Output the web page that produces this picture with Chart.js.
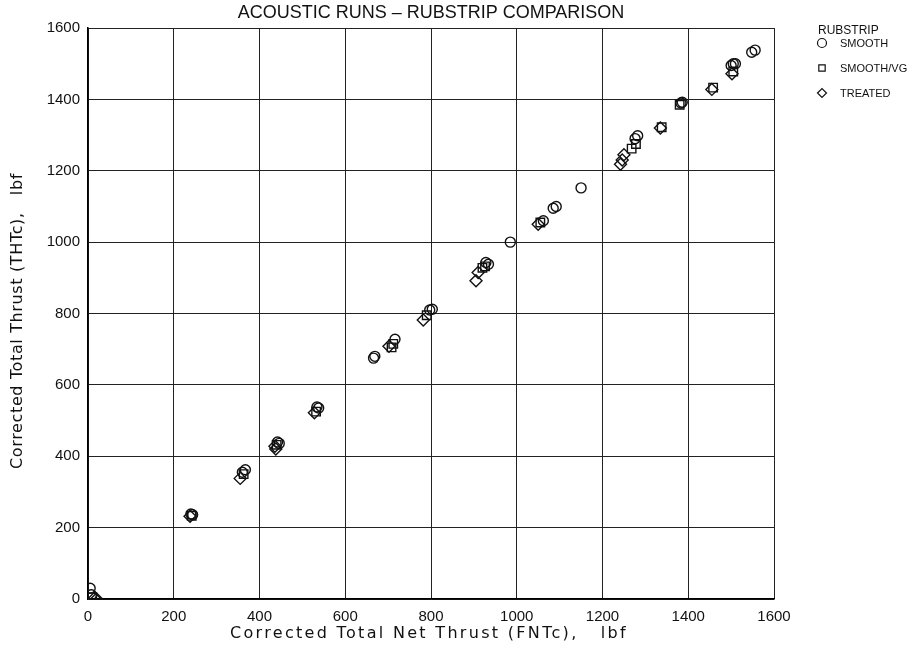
<!DOCTYPE html>
<html>
<head>
<meta charset="utf-8">
<script src="https://cdn.jsdelivr.net/npm/chart.js@4"></script>
<style>
  html, body { margin: 0; padding: 0; background: #fff; }
  #wrap { width: 911px; height: 654px; position: relative; }
</style>
</head>
<body>
<div id="wrap"><canvas id="chart"></canvas></div>
<script>
// Data (FNTc vs THTc, lbf)
const smoothX  = [5, 8, 240, 244, 360, 367, 442, 446, 534, 538, 666, 669, 716, 797, 803, 928, 934, 985, 1062, 1085, 1092, 1150, 1276, 1282, 1383, 1386, 1500, 1505, 1510, 1548, 1556];
const smoothY  = [30, 12, 238, 236, 355, 362, 440, 436, 538, 535, 675, 680, 728, 810, 812, 943, 938, 1000, 1060, 1095, 1100, 1152, 1290, 1298, 1390, 1392, 1495, 1500, 1500, 1532, 1538];
const vgX      = [10, 242, 363, 440, 532, 708, 712, 790, 920, 926, 1055, 1268, 1278, 1338, 1380, 1458, 1505];
const vgY      = [5, 233, 350, 432, 525, 705, 715, 795, 928, 932, 1055, 1262, 1275, 1322, 1385, 1433, 1478];
const treatedX = [15, 20, 238, 355, 436, 438, 528, 702, 782, 905, 910, 1050, 1242, 1246, 1250, 1335, 1455, 1502];
const treatedY = [2, 0, 232, 338, 428, 420, 522, 708, 782, 892, 915, 1050, 1218, 1230, 1245, 1320, 1428, 1472];
const seriesLabels = ['SMOOTH', 'SMOOTH/VG', 'TREATED'];
const tickValues = [0, 200, 400, 600, 800, 1000, 1200, 1400, 1600];

const FONT = '"Liberation Sans", Arial, sans-serif';
const TITLE_FONT = '"DejaVu Sans", sans-serif';
const INK = '#111';

const pts = (xs, ys) => xs.map((x, i) => ({ x: x, y: ys[i] }));

// draw text stretched with letter spacing to a given width (plotter-style lettering)
function spacedText(ctx, text, cx, cy, width, angle) {
   ctx.save();
   ctx.translate(cx, cy);
   ctx.rotate(angle);
   ctx.letterSpacing = '0px';
   const natural = ctx.measureText(text).width;
   const extra = Math.max(0, (width - natural) / text.length);
   ctx.letterSpacing = extra.toFixed(2) + 'px';
   ctx.textAlign = 'left';
   ctx.fillText(text, -width / 2, 0);
   ctx.restore();
}

// Title, axis titles and legend drawn on top of the chart
const decorPlugin = {
   id: 'decor',
   afterDraw(chart) {
      const ctx = chart.ctx;
      const area = chart.chartArea;
      ctx.save();
      ctx.fillStyle = INK;
      ctx.textBaseline = 'middle';
      ctx.textAlign = 'center';
      ctx.font = '18px ' + FONT;
      ctx.fillText('ACOUSTIC RUNS \u2013 RUBSTRIP COMPARISON', (area.left + area.right) / 2, 13);

      ctx.font = '16px ' + TITLE_FONT;
      spacedText(ctx, 'Corrected Total Net Thrust (FNTc),   lbf', 429, 634, 398, 0);
      spacedText(ctx, 'Corrected Total Thrust (THTc),   lbf', 18, 321, 296, -Math.PI / 2);

      ctx.textAlign = 'left';
      ctx.font = '12px ' + FONT;
      ctx.fillText('RUBSTRIP', 818, 31);
      ctx.font = '11px ' + FONT;
      const rowY = [43, 68, 93];
      chart.data.datasets.forEach((ds, i) => {
         ctx.strokeStyle = INK;
         ctx.lineWidth = 1.2;
         ctx.fillStyle = 'rgba(0,0,0,0)';
         Chart.helpers.drawPoint(ctx, { pointStyle: ds.pointStyle, radius: 4.5, borderWidth: 1.2 }, 822, rowY[i]);
         ctx.fillStyle = INK;
         ctx.fillText(ds.label, 840, rowY[i] + 1);
      });
      ctx.restore();
   }
};

const mkSet = (label, data, style, radius) => ({
   label: label,
   data: data,
   pointStyle: style,
   pointRadius: radius,
   pointHoverRadius: radius,
   pointBorderWidth: 1.4,
   borderColor: INK,
   backgroundColor: 'rgba(0,0,0,0)',
   showLine: false
});

const plainTick = (v) => String(v);

new Chart(document.getElementById('chart'), {
   type: 'scatter',
   data: {
      datasets: [
         mkSet(seriesLabels[0], pts(smoothX, smoothY), 'circle', 5),
         mkSet(seriesLabels[1], pts(vgX, vgY), 'rect', 6),
         mkSet(seriesLabels[2], pts(treatedX, treatedY), 'rectRot', 6)
      ]
   },
   options: {
      responsive: true,
      maintainAspectRatio: false,
      animation: false,
      layout: {
         padding: { left: 0, top: 28, right: 137, bottom: 0 }
      },
      plugins: {
         legend: { display: false },
         title: { display: false },
         tooltip: { enabled: false }
      },
      scales: {
         x: {
            type: 'linear',
            min: 0,
            max: 1600,
            afterBuildTicks: (scale) => { scale.ticks = tickValues.map(v => ({ value: v })); },
            afterFit: (scale) => { scale.height = 55; },
            grid: { color: '#222', lineWidth: 1, drawTicks: false },
            border: { color: '#000', width: 1.5 },
            ticks: {
               color: INK,
               font: { family: FONT, size: 15 },
               padding: 9,
               maxRotation: 0,
               callback: plainTick
            },
            title: { display: false }
         },
         y: {
            type: 'linear',
            min: 0,
            max: 1600,
            afterBuildTicks: (scale) => { scale.ticks = tickValues.map(v => ({ value: v })); },
            afterFit: (scale) => { scale.width = 88; },
            grid: { color: '#222', lineWidth: 1, drawTicks: false },
            border: { color: '#000', width: 1.5 },
            ticks: {
               color: INK,
               font: { family: FONT, size: 15 },
               padding: 8,
               callback: plainTick
            },
            title: { display: false }
         }
      }
   },
   plugins: [decorPlugin]
});
</script>
</body>
</html>
